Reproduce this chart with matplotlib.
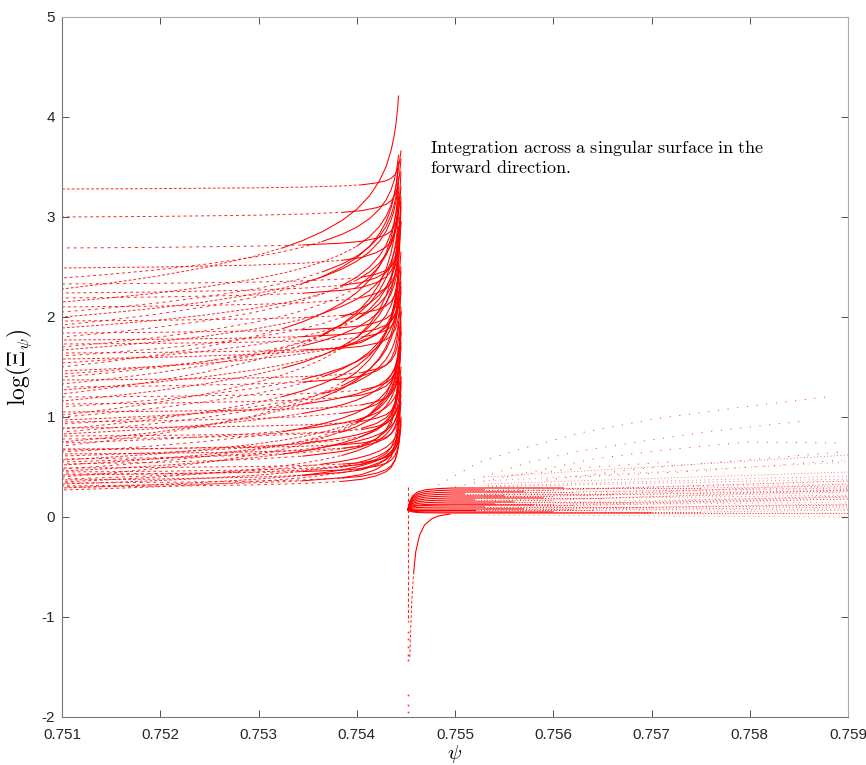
import numpy as np
import matplotlib
matplotlib.use('Agg')
import matplotlib.pyplot as plt

plt.rcParams['mathtext.fontset'] = 'cm'
plt.rcParams['axes.unicode_minus'] = False
plt.rcParams['font.family'] = ['Liberation Sans', 'DejaVu Sans']

RED = '#ff0000'
X_SING = 0.75445   # where the left family blows up
X_RIGHT = 0.759

# left family: level at psi=0.751, level reached at the singular surface, shape
LEFT_Y0 = [3.28, 3.00, 2.69, 2.49, 2.39, 2.33, 2.28, 2.24, 2.19, 2.15,
           2.10, 2.05, 2.00, 1.96, 1.92, 1.89, 1.84, 1.80, 1.77, 1.73,
           1.70, 1.67, 1.64, 1.61, 1.58, 1.54, 1.50, 1.46, 1.43, 1.40,
           1.37, 1.33, 1.30, 1.27, 1.23, 1.20, 1.16, 1.13, 1.10, 1.05,
           1.02, 1.00, 0.97, 0.95, 0.93, 0.89, 0.88, 0.85, 0.83, 0.81,
           0.78, 0.75, 0.74, 0.71, 0.68, 0.67, 0.65, 0.63, 0.61, 0.58,
           0.57, 0.55, 0.53, 0.52, 0.49, 0.48, 0.46, 0.45, 0.43, 0.42,
           0.40, 0.38, 0.37, 0.35, 0.34, 0.33, 0.31, 0.30, 0.29, 0.27]
LEFT_YEND = [3.66, 3.58, 3.30, 3.45, 3.62, 2.95, 4.21, 3.20, 3.15, 3.50,
             2.95, 3.40, 3.35, 2.65, 3.55, 3.05, 2.50, 3.25, 2.45, 2.35,
             3.15, 2.90, 2.25, 2.70, 3.10, 2.60, 3.30, 2.15, 2.55, 2.80,
             2.05, 3.00, 2.30, 2.45, 3.20, 1.85, 2.70, 1.95, 2.20, 1.70,
             2.90, 2.35, 1.60, 2.05, 1.95, 1.50, 2.40, 2.15, 1.65, 1.40,
             1.75, 2.25, 1.30, 2.50, 1.22, 1.90, 1.60, 1.35, 1.12, 1.85,
             1.50, 1.05, 2.10, 1.45, 0.98, 1.60, 1.25, 1.15, 0.92, 1.40,
             1.70, 0.88, 1.30, 1.10, 0.95, 0.84, 1.35, 1.00, 0.80, 0.76]
LEFT_KIND = list('hhhhghghhg'
                 'hgghgghghh'
                 'gghghggggg'
                 'hghgghghgh'
                 'ggghghggghh'
                 'ggghhghghgg'
                 'hghgghhhgg'
                 'hghghhgghh')
# distance (1e-3) from the surface where each trace turns from dotted to solid
SOLID_FROM = [0.45, 0.8, 1.1, 0.6, 0.9, 0.5, 1.2, 0.7, 1.0, 0.55]

# shapes: distance to the singular surface (1e-3) vs share of the rise
GRAD_D = [3.45, 3.0, 2.5, 2.0, 1.5, 1.2, 1.0, 0.8, 0.6, 0.45, 0.32, 0.22, 0.15, 0.10, 0.07, 0.05, 0.035, 0.025]
GRAD_F = [0.0, 0.028, 0.065, 0.111, 0.169, 0.214, 0.251, 0.297, 0.355, 0.413, 0.483, 0.559, 0.636, 0.719, 0.791, 0.859, 0.932, 1.0]
HOOK_D = [3.45, 2.5, 1.5, 1.0, 0.6, 0.4, 0.25, 0.15, 0.10, 0.06, 0.04, 0.025, 0.015, 0.008, 0.0]
HOOK_F = [0.0, 0.01, 0.03, 0.05, 0.08, 0.11, 0.16, 0.22, 0.28, 0.38, 0.48, 0.60, 0.72, 0.85, 1.0]

# right family: fast rise from the surface to a level, then slowly on
BAND_X0 = 0.75452
BAND_Y0 = 0.07
RISE_DX = [0.0, 0.02, 0.05, 0.10, 0.18, 0.30, 0.45]
RISE_F = [0.0, 0.40, 0.65, 0.82, 0.92, 0.97, 1.0]
BAND_LEVEL = [0.29, 0.27, 0.25, 0.23, 0.21, 0.19, 0.17, 0.15, 0.13, 0.12, 0.10, 0.08, 0.07, 0.05, 0.04]
BAND_SOLID_TO = [0.7561, 0.7553, 0.7557, 0.7551, 0.7555, 0.7559, 0.7552, 0.7556, 0.7554, 0.7558, 0.7553, 0.7557, 0.7552, 0.7560, 0.7570]
BAND_DENSE_TO = [0.7575, 0.7560, 0.7562, 0.7566, 0.7560, 0.7565, 0.7560, 0.7568, 0.7560, 0.7562, 0.7570, 0.7562, 0.7564, 0.7575, 0.7590]
BAND_Y_RIGHT = [0.31, 0.36, 0.29, 0.33, 0.27, 0.25, 0.27, 0.21, 0.18, 0.20, 0.13, 0.12, 0.10, 0.07, 0.05]

# scattered dotted tracks inside the band
EXTRA_X0 = 0.7553
EXTRA_Y_LEFT = [0.33, 0.30, 0.27, 0.23, 0.20, 0.17, 0.14, 0.11, 0.08, 0.06, 0.02, 0.36, 0.40, 0.31, 0.25, 0.21, 0.09]
EXTRA_Y_RIGHT = [0.45, 0.38, 0.33, 0.30, 0.26, 0.22, 0.20, 0.15, 0.12, 0.08, 0.00, 0.55, 0.62, 0.41, 0.36, 0.28, 0.18]

# sparse rays above the band
RAYS_X = [[0.75483, 0.75525, 0.75563, 0.75627, 0.75702, 0.75793, 0.75878],
          [0.75519, 0.75576, 0.75627, 0.75685, 0.75763, 0.75855],
          [0.75553, 0.75641, 0.75712, 0.75797, 0.75892],
          [0.75593, 0.75695, 0.75797, 0.75892],
          [0.75627, 0.75729, 0.75831, 0.75894],
          [0.75500, 0.75560, 0.75640, 0.75720]]
RAYS_Y = [[0.32, 0.55, 0.67, 0.84, 0.98, 1.10, 1.20],
          [0.37, 0.55, 0.66, 0.75, 0.86, 0.96],
          [0.40, 0.58, 0.67, 0.75, 0.74],
          [0.37, 0.49, 0.57, 0.65],
          [0.40, 0.45, 0.52, 0.57],
          [0.30, 0.42, 0.50, 0.55]]

# branch that drops below zero right at the surface
DOWN_X = 0.75452
DOWN_Y_DENSE = [0.30, -1.05]
DOWN_Y_SPARSE = [-1.15, -1.22, -1.30, -1.38, -1.43, -1.78, -1.88, -1.95]
BRANCH_X = [0.75454, 0.75455, 0.75456, 0.75458, 0.75460, 0.75464, 0.75469, 0.75476, 0.75483, 0.75495]
BRANCH_Y = [-1.40, -1.10, -0.83, -0.55, -0.35, -0.18, -0.08, -0.02, 0.01, 0.03]

fig = plt.figure(figsize=(8.66, 7.65), dpi=100)
ax = fig.add_axes([62/866, 48/765, 786/866, 700/765])

for n, (y0, y1, k) in enumerate(zip(LEFT_Y0, LEFT_YEND, LEFT_KIND)):
    d = np.array(GRAD_D if k == 'g' else HOOK_D)
    f = np.array(GRAD_F if k == 'g' else HOOK_F)
    xs = X_SING - d*1e-3
    ys = y0 + (y1 - y0)*f
    i = int(np.argmax(d <= SOLID_FROM[n % len(SOLID_FROM)]))
    ax.plot(xs[:i+1], ys[:i+1], color=RED, lw=0.7,
            ls=(n % 5, (3, 2 + n % 3)), alpha=0.85)
    ax.plot(xs[i:], ys[i:], color=RED, lw=0.75)

rise_x = BAND_X0 + np.array(RISE_DX)*1e-3
for n, (lev, x_s, x_to, yr) in enumerate(zip(BAND_LEVEL, BAND_SOLID_TO, BAND_DENSE_TO, BAND_Y_RIGHT)):
    ys = BAND_Y0 + (lev - BAND_Y0)*np.array(RISE_F)
    ax.plot(list(rise_x) + [x_s], list(ys) + [lev], color=RED, lw=0.8)
    ax.plot([x_s, x_to], [lev, lev], color=RED, lw=0.8, ls=(n % 2, (1, 1.5)), alpha=0.8)
    if x_to < X_RIGHT:
        ax.plot([x_to, X_RIGHT], [lev, yr], color=RED, lw=0.6, ls=(0, (1, 3)), alpha=0.75)

for j, (yl, yr) in enumerate(zip(EXTRA_Y_LEFT, EXTRA_Y_RIGHT)):
    ax.plot([EXTRA_X0, X_RIGHT], [yl, yr], color=RED, lw=0.6,
            ls=(j % 3, (1, 3 + j % 4)), alpha=0.7)

for rx, ry in zip(RAYS_X, RAYS_Y):
    ax.plot(rx, ry, color=RED, lw=0.7, ls=(0, (1, 9)), alpha=0.85)

ax.plot([DOWN_X, DOWN_X], DOWN_Y_DENSE, color=RED, lw=0.8, ls=(0, (3, 2)), alpha=0.85)
ax.plot([DOWN_X]*len(DOWN_Y_SPARSE), DOWN_Y_SPARSE, ls='none', marker='s', ms=1.2,
        mfc=RED, mec='none', alpha=0.85)
ax.plot(BRANCH_X[:4], BRANCH_Y[:4], color=RED, lw=0.7, ls=(0, (3, 2)), alpha=0.85)
ax.plot(BRANCH_X[3:], BRANCH_Y[3:], color=RED, lw=0.8)

ax.text(0.754745, 3.64, r'$\mathrm{Integration\ across\ a\ singular\ surface\ in\ the}$',
        fontsize=13, va='baseline', ha='left')
ax.text(0.754745, 3.44, r'$\mathrm{forward\ direction.}$',
        fontsize=13, va='baseline', ha='left')

ax.set_xlim(0.751, 0.759)
ax.set_ylim(-2, 5)
xt = [0.751, 0.752, 0.753, 0.754, 0.755, 0.756, 0.757, 0.758, 0.759]
ax.set_xticks(xt)
ax.set_xticklabels([f'{v:.3f}' for v in xt])
ax.set_yticks(range(-2, 6))
ax.set_yticklabels([str(v) for v in range(-2, 6)])
ax.tick_params(direction='in', top=True, right=True, length=5, width=0.6,
               color='#333333', labelsize=11, labelcolor='#262626')
ax.tick_params(axis='x', pad=8)
ax.tick_params(axis='y', pad=5)
for s in ['left', 'bottom']:
    ax.spines[s].set_color('#777777')
for s in ['top', 'right']:
    ax.spines[s].set_color('#aaaaaa')
for s in ax.spines.values():
    s.set_linewidth(0.8)

ax.set_xlabel(r'$\psi$', fontsize=15)
ax.set_ylabel(r'$\log(\Xi_\psi)$', fontsize=17)
ax.xaxis.set_label_coords(0.5, -0.037)
ax.yaxis.set_label_coords(-0.036, 0.5)

fig.savefig('out.png', dpi=100)
